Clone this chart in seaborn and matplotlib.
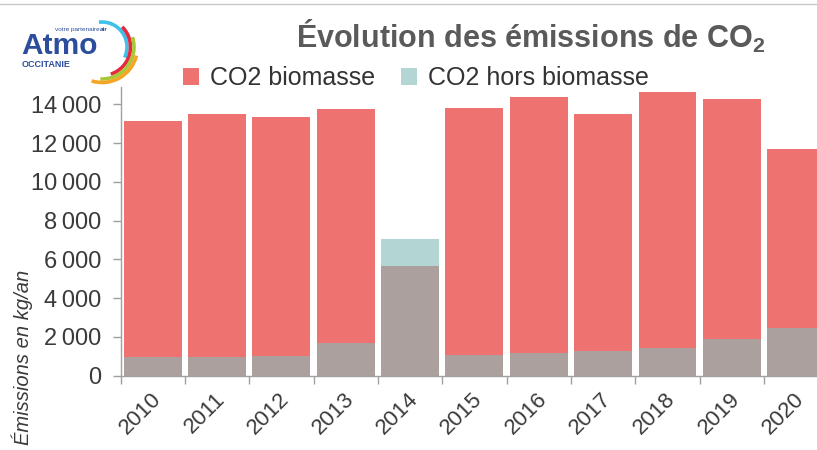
import numpy as np
import pandas as pd
import matplotlib
matplotlib.use("Agg")
import matplotlib.pyplot as plt
import matplotlib.transforms as mtransforms
from matplotlib.patches import Patch, Arc
from matplotlib.ticker import FuncFormatter
import seaborn as sns

# ---- data ----
years = ["2010", "2011", "2012", "2013", "2014", "2015", "2016", "2017", "2018", "2019", "2020"]
co2_biomasse = [13120, 13480, 13330, 13740, 5670, 13840, 14360, 13480, 14620, 14300, 11710]
co2_hors_biomasse = [930, 930, 1030, 1690, 7060, 1050, 1140, 1290, 1395, 1900, 2430]
series_labels = ["CO2 biomasse", "CO2 hors biomasse"]
y_ticks = [0, 2000, 4000, 6000, 8000, 10000, 12000, 14000]

RED = "#EE7370"
TEAL = "#B3D5D4"
OVERLAP = "#ABA09D"
FONT = ["Liberation Sans Narrow", "Liberation Sans", "DejaVu Sans"]

sns.set_theme(style="white")
plt.rcParams["font.family"] = FONT
plt.rcParams["mathtext.fontset"] = "custom"
plt.rcParams["mathtext.rm"] = "Liberation Sans"
plt.rcParams["mathtext.bf"] = "Liberation Sans:bold"

W, H = 817, 450
fig = plt.figure(figsize=(W / 100, H / 100), dpi=100)
fig.patch.set_facecolor("white")

left_px, right_px, bottom_px, top_px = 120.5, 828.4, 375.5, 87
ax = fig.add_axes([left_px / W, 1 - bottom_px / H, (right_px - left_px) / W, (bottom_px - top_px) / H])

df = pd.DataFrame({"year": years, "bio": co2_biomasse, "hors": co2_hors_biomasse})
df["overlap"] = np.minimum(df["bio"], df["hors"])

sns.barplot(data=df, x="year", y="bio", color=RED, saturation=1, width=0.9, ax=ax, linewidth=0)
sns.barplot(data=df, x="year", y="hors", color=TEAL, saturation=1, width=0.9, ax=ax, linewidth=0)
sns.barplot(data=df, x="year", y="overlap", color=OVERLAP, saturation=1, width=0.9, ax=ax, linewidth=0)

ax.set_xlim(-0.5, len(years) - 0.5)
ax.set_ylim(0, 14900)
ax.set_xlabel("")
ax.set_ylabel("")

for s in ["top", "right"]:
    ax.spines[s].set_visible(False)
for s in ["left", "bottom"]:
    ax.spines[s].set_color("#A0A0A0")
    ax.spines[s].set_linewidth(1.0)

ax.set_yticks(y_ticks)
ax.yaxis.set_major_formatter(FuncFormatter(lambda v, p: f"{int(v):,}".replace(",", "\u2009")))
ax.tick_params(axis="y", which="major", left=True, length=6, width=1, color="#A0A0A0",
               pad=8, labelsize=17, labelcolor="#3A3A3A")

ax.set_xticks(np.arange(len(years)))
ax.set_xticks(np.arange(-0.5, len(years), 1), minor=True)
ax.tick_params(axis="x", which="major", bottom=False, length=0, pad=15, labelsize=16, labelcolor="#3A3A3A")
ax.tick_params(axis="x", which="minor", bottom=True, length=6, width=1, color="#A0A0A0")
offset = mtransforms.ScaledTranslation(5 / 100, 0, fig.dpi_scale_trans)
for lab in ax.get_xticklabels():
    lab.set_rotation(45)
    lab.set_ha("right")
    lab.set_va("center")
    lab.set_rotation_mode("anchor")
    lab.set_transform(lab.get_transform() + offset)

# y-axis label (partly cut at the bottom edge, as in the reference)
fig.text(22 / W, 1 - 357 / H, "Émissions en kg/an", rotation=90, ha="center", va="center",
         fontsize=14.5, style="italic", color="#3A3A3A", family=FONT)

# title
fig.text(531 / W, 1 - 36 / H, r"Évolution des émissions de CO$_\mathbf{2}$", ha="center", va="center",
         fontsize=22, fontweight="bold", color="#5A5A5A", family=["Liberation Sans", "DejaVu Sans"])

# legend
handles = [Patch(facecolor=RED, edgecolor="none"), Patch(facecolor=TEAL, edgecolor="none")]
fig.legend(handles, series_labels, loc="center left", bbox_to_anchor=(183 / W, 1 - 78 / H),
           ncol=2, frameon=False, fontsize=18, handlelength=0.65, handleheight=0.65,
           handletextpad=0.45, columnspacing=1.0, labelcolor="#333333", borderaxespad=0, borderpad=0)

# top border line
fig.add_artist(plt.Line2D([0, 1], [1 - 4 / H, 1 - 4 / H], transform=fig.transFigure, color="#C8C8C8", lw=1))

# logo
lax = fig.add_axes([0, 1 - 90 / H, 150 / W, 80 / H])
lax.set_xlim(0, 150)
lax.set_ylim(360, 440)
lax.axis("off")
BLUE = "#2C4D9C"
lax.text(21, 450 - 54, "Atmo", fontsize=21.5, fontweight="bold", color=BLUE, family=["Liberation Sans"],
         ha="left", va="baseline")
lax.text(22, 450 - 60, "OCCITANIE", fontsize=6.5, fontweight="bold", color=BLUE, family=["Liberation Sans"],
         ha="left", va="top")
lax.text(55, 450 - 27, "votre partenaire", fontsize=4.6, color=BLUE, family=["Liberation Sans"],
         ha="left", va="top")
lax.text(99.5, 450 - 27, "air", fontsize=4.6, fontweight="bold", color=BLUE, family=["Liberation Sans"],
         ha="left", va="top")
cx, cy = 102, 450 - 47
for r, t1, t2, col in [(25, -25, 97, "#3EC1E8"), (28.5, -72, 45, "#E52A3F"),
                       (32, -93, 18, "#A8C838"), (35.5, -107, -14, "#F5A524")]:
    lax.add_patch(Arc((cx, cy), 2 * r, 2 * r, theta1=t1, theta2=t2, color=col, lw=2.6))

fig.savefig("out.png", dpi=100, facecolor="white")
